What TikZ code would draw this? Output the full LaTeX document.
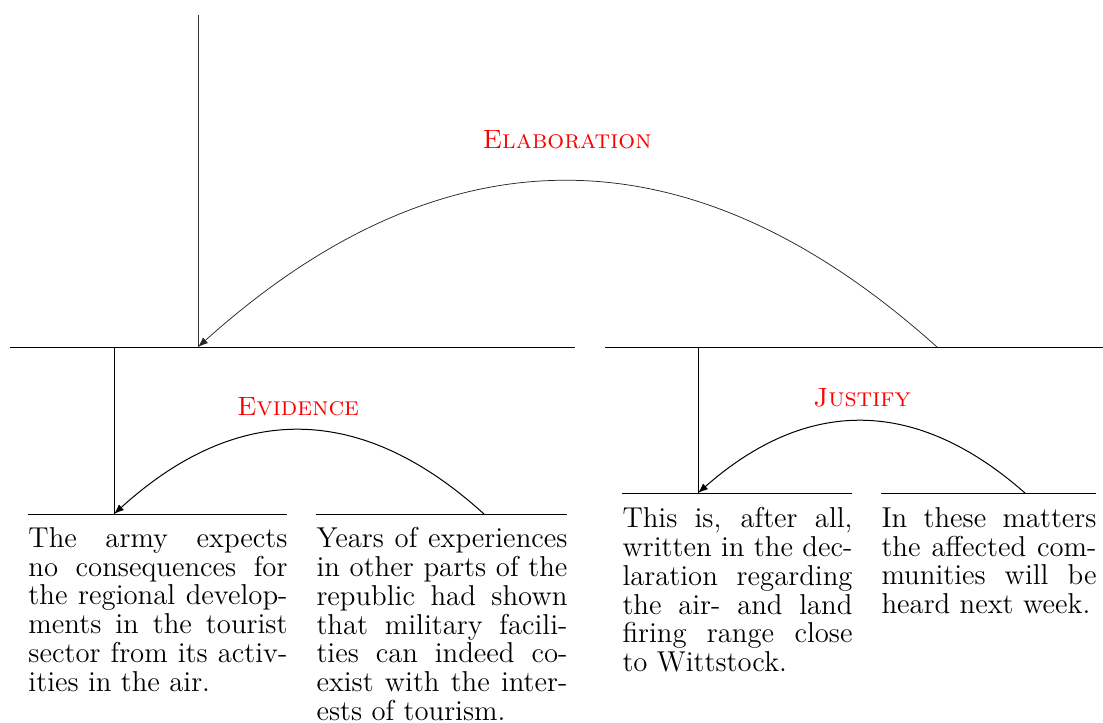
\documentclass[tikz,border=0pt]{standalone}
\usetikzlibrary{arrows.meta}
% one justified line of a segment text, stretched to the full column width
\newcommand{\jline}[1]{\makebox[\hsize][s]{#1}\\}
\hbadness=10000
\hfuzz=20pt
\begin{document}
\begin{tikzpicture}[x=0.4pt,y=-0.4pt,
  span/.style={line width=0.4pt},
  topspan/.style={line width=0.35pt, black!80},
  rel/.style={line width=0.4pt,-{Latex[length=4pt,width=3pt]}},
  toprel/.style={line width=0.3pt, black!85,-{Latex[length=4pt,width=3pt]}},
  relname/.style={text=red,font=\fontsize{10.6}{12}\selectfont\scshape,inner sep=0pt},
  seg/.style={anchor=north west, inner sep=0pt, align=justify,
    font=\fontsize{11.5}{11.5}\selectfont}]
\useasboundingbox (0,0) rectangle (1103,722);

% root span and its two children
\coordinate (root) at (198,15);
\coordinate (rootfoot) at (198,347);
\coordinate (a1) at (10,347);
\coordinate (a2) at (575,347);
\coordinate (b1) at (605,347);
\coordinate (b2) at (1103,347);
\coordinate (bhook) at (937,347);
\coordinate (topc1) at (690.7,125.7);
\coordinate (topc2) at (444.3,125.7);
\draw[topspan] (root) -- (rootfoot);
\draw[span] (a1) -- (a2);
\draw[span] (b1) -- (b2);
\draw[toprel] (bhook) .. controls (topc1) and (topc2) .. (rootfoot);
\node[relname] (elab) at (567,140) {Elaboration};

% left subtree: Evidence
\coordinate (ltop) at (114,347);
\coordinate (lfoot) at (114,514);
\coordinate (l1a) at (28,514);
\coordinate (l1b) at (287,514);
\coordinate (l2a) at (316,514);
\coordinate (l2b) at (567,514);
\coordinate (l2hook) at (484,514);
\coordinate (lc1) at (360.7,402);
\coordinate (lc2) at (237.3,402);
\draw[span] (ltop) -- (lfoot);
\draw[span] (l1a) -- (l1b);
\draw[span] (l2a) -- (l2b);
\draw[rel] (l2hook) .. controls (lc1) and (lc2) .. (lfoot);
\node[relname] (evid) at (298,407) {Evidence};

% right subtree: Justify
\coordinate (rtop) at (698,347);
\coordinate (rfoot) at (698,493);
\coordinate (r1a) at (622,493);
\coordinate (r1b) at (852,493);
\coordinate (r2a) at (881,493);
\coordinate (r2b) at (1096,493);
\coordinate (r2hook) at (1025,493);
\coordinate (rc1) at (916,397);
\coordinate (rc2) at (807,397);
\draw[span] (rtop) -- (rfoot);
\draw[span] (r1a) -- (r1b);
\draw[span] (r2a) -- (r2b);
\draw[rel] (r2hook) .. controls (rc1) and (rc2) .. (rfoot);
\node[relname] (just) at (862,398) {Justify};

% elementary discourse units
\node[seg,text width=103.6pt] (s1) at (28,527) {%
  \jline{The army expects}
  \jline{no consequences for}
  \jline{the regional develop-}
  \jline{ments in the tourist}
  \jline{sector from its activ-}
  ities in the air.};
\node[seg,text width=100.4pt] (s2) at (316,527) {%
  \jline{Years of experiences}
  \jline{in other parts of the}
  \jline{republic had shown}
  \jline{that military facili-}
  \jline{ties can indeed co-}
  \jline{exist with the inter-}
  ests of tourism.};
\node[seg,text width=92pt] (s3) at (622,507) {%
  \jline{This is, after all,}
  \jline{written in the dec-}
  \jline{laration regarding}
  \jline{the air- and land}
  \jline{firing range close}
  to Wittstock.};
\node[seg,text width=86pt] (s4) at (881,507) {%
  \jline{In these matters}
  \jline{the affected com-}
  \jline{munities will be}
  heard next week.};
\end{tikzpicture}
\end{document}
